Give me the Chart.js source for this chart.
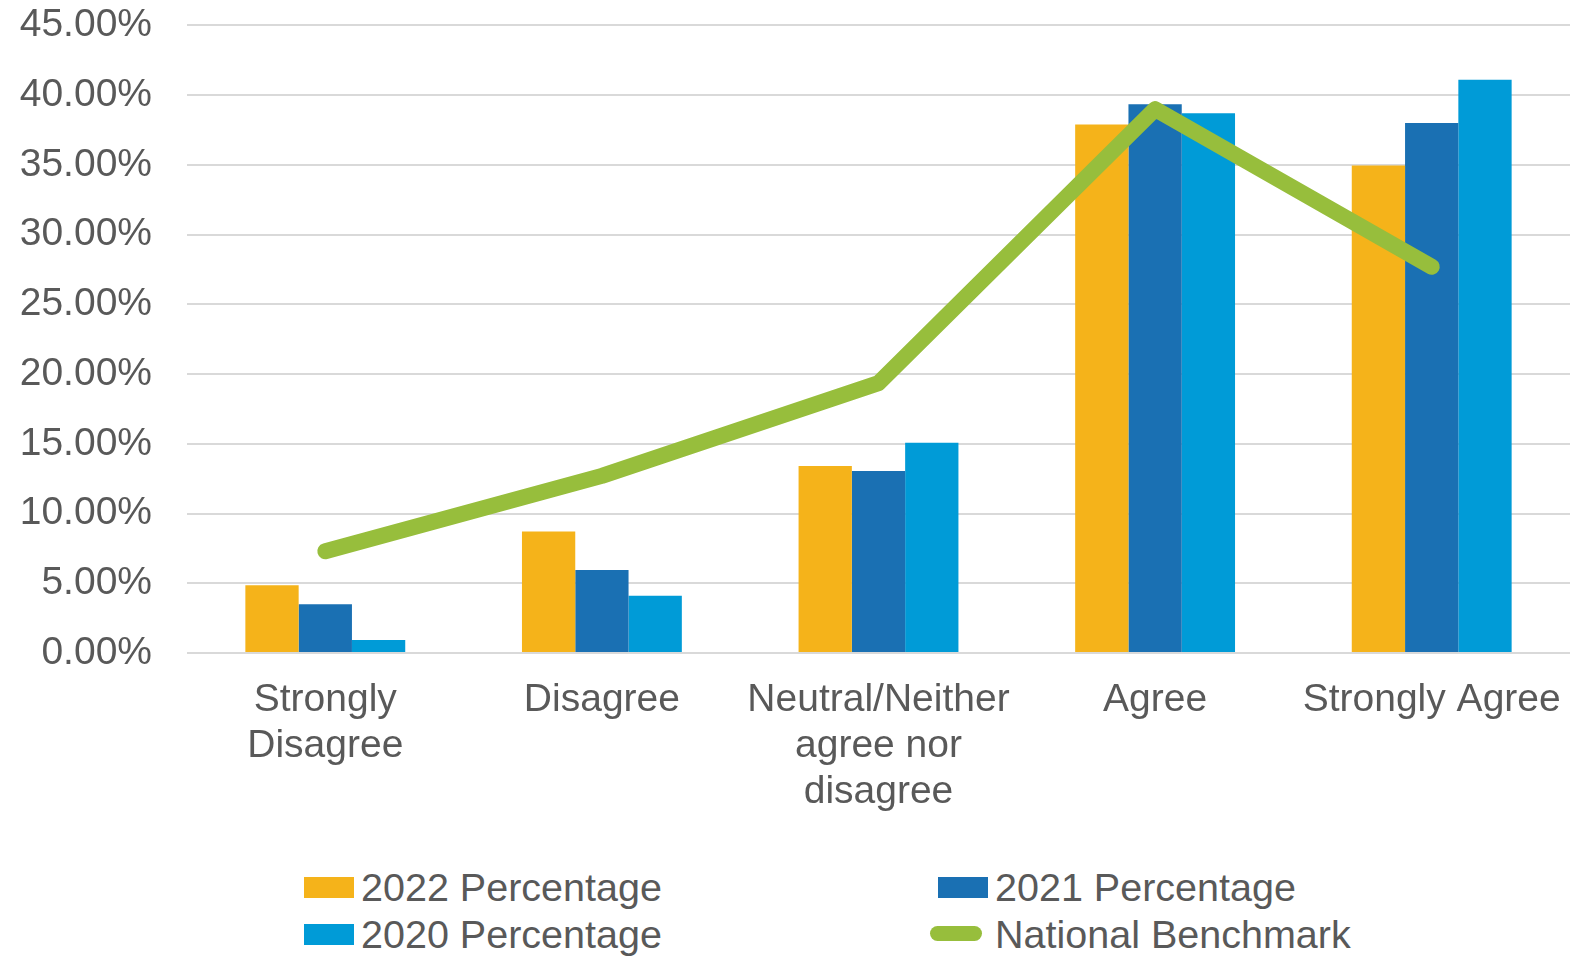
<!DOCTYPE html>
<html>
<head>
<meta charset="utf-8">
<script src="https://cdn.jsdelivr.net/npm/chart.js@4/dist/chart.umd.min.js"></script>
<style>
  html, body { margin: 0; padding: 0; background: #ffffff; }
  #wrap { position: relative; width: 1588px; height: 956px; overflow: hidden; font-family: "Liberation Sans", Arial, sans-serif; }
  #c { position: absolute; left: 0; top: -33px; }
  .leg { position: absolute; color: #595959; font-size: 39.5px; line-height: 46px; white-space: nowrap; }
  .box { position: absolute; width: 50px; height: 21px; }
  .ln { position: absolute; width: 52px; height: 15px; border-radius: 8px; }
</style>
</head>
<body>
<div id="wrap">
  <canvas id="c" width="1588" height="873"></canvas>
  <div id="legend"></div>
</div>
<script>
const categories = [["Strongly", "Disagree"], "Disagree", ["Neutral/Neither", "agree nor", "disagree"], "Agree", "Strongly Agree"];
const pct2022 = [4.86, 8.71, 13.4, 37.9, 34.95];
const pct2021 = [3.5, 5.95, 13.05, 39.35, 38.0];
const pct2020 = [0.93, 4.1, 15.07, 38.7, 41.1];
const benchmark = [7.3, 12.7, 19.35, 39.0, 27.7];
const yTicks = [0, 5, 10, 15, 20, 25, 30, 35, 40, 45];
const seriesNames = ["2022 Percentage", "2021 Percentage", "2020 Percentage", "National Benchmark"];
const colors = ["#F5B31A", "#1A70B3", "#009BD7", "#97BE3C"];

const FONT = "'Liberation Sans', Arial, sans-serif";

new Chart(document.getElementById('c'), {
  data: {
    labels: categories,
    datasets: [
      { type: 'line', label: seriesNames[3], data: benchmark, borderColor: colors[3], backgroundColor: colors[3],
        borderWidth: 16, pointRadius: 0, borderCapStyle: 'round', borderJoinStyle: 'round', tension: 0, order: 0 },
      { type: 'bar', label: seriesNames[0], data: pct2022, backgroundColor: colors[0], order: 1 },
      { type: 'bar', label: seriesNames[1], data: pct2021, backgroundColor: colors[1], order: 1 },
      { type: 'bar', label: seriesNames[2], data: pct2020, backgroundColor: colors[2], order: 1 }
    ]
  },
  options: {
    responsive: false,
    animation: false,
    devicePixelRatio: 1,
    layout: { padding: { top: 0, right: 18, left: 0, bottom: 0 } },
    datasets: { bar: { categoryPercentage: 0.578, barPercentage: 1.0, borderWidth: 0 } },
    plugins: { legend: { display: false }, tooltip: { enabled: false } },
    scales: {
      x: {
        grid: { display: false, drawTicks: false },
        border: { display: false },
        ticks: { color: '#595959', font: { family: FONT, size: 39, lineHeight: 1.18 }, padding: 24, maxRotation: 0, autoSkip: false },
        afterFit: (s) => { s.height = 187; }
      },
      y: {
        min: 0, max: 45,
        afterBuildTicks: (s) => { s.ticks = yTicks.map(v => ({ value: v })); },
        grid: { color: '#D9D9D9', lineWidth: 2, drawTicks: false },
        border: { display: false },
        ticks: { color: '#595959', font: { family: FONT, size: 39 }, padding: 35,
                 callback: (v) => v.toFixed(2) + '%' },
        afterFit: (s) => { s.width = 187; }
      }
    }
  }
});

// HTML legend (two columns)
const legend = document.getElementById('legend');
const legPos = [
  { x: 304, y: 864 }, { x: 938, y: 864 },
  { x: 304, y: 911 }, { x: 938, y: 911 }
];
const legendOrder = [0, 1, 2, 3];
legendOrder.forEach((si, i) => {
  const p = legPos[i];
  const mark = document.createElement('div');
  if (si === 3) {
    mark.className = 'ln';
    mark.style.left = (p.x - 8) + 'px';
    mark.style.top = (p.y + 15) + 'px';
  } else {
    mark.className = 'box';
    mark.style.left = p.x + 'px';
    mark.style.top = (p.y + 13) + 'px';
  }
  mark.style.background = colors[si];
  legend.appendChild(mark);
  const t = document.createElement('div');
  t.className = 'leg';
  t.style.left = (p.x + 57) + 'px';
  t.style.top = p.y + 'px';
  t.textContent = seriesNames[si];
  legend.appendChild(t);
});
</script>
</body>
</html>
